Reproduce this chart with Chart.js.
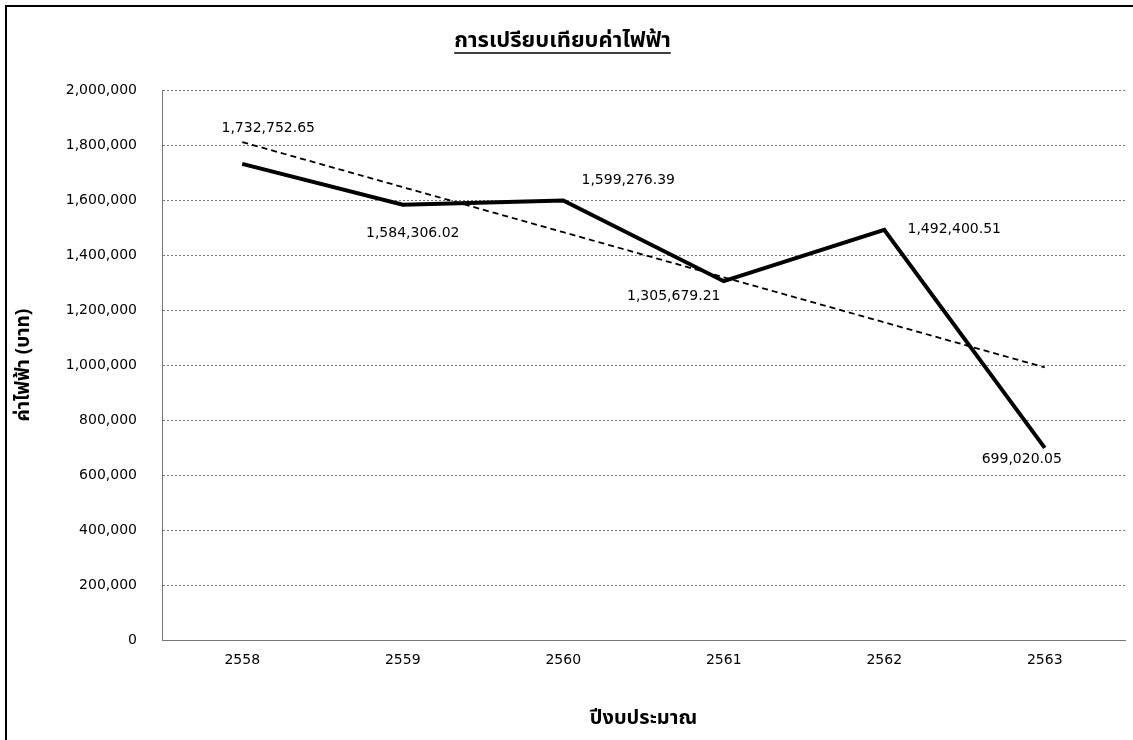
<!DOCTYPE html>
<html>
<head>
<meta charset="utf-8">
<script src="https://cdn.jsdelivr.net/npm/chart.js@4.4.1/dist/chart.umd.min.js"></script>
<style>
  html, body { margin: 0; padding: 0; background: #fff; overflow: hidden; }
  #wrap { width: 1133px; height: 740px; position: relative; }
</style>
</head>
<body>
<div id="wrap"><canvas id="myChart"></canvas></div>
<script>
const years = ['2558', '2559', '2560', '2561', '2562', '2563'];
const costs = [1732752.65, 1584306.02, 1599276.39, 1305679.21, 1492400.51, 699020.05];
// dashed trend line
const trend = [1812000, 1648000, 1484000, 1320000, 1156000, 992000];

const FONT = "'DejaVu Sans', 'Noto Sans', sans-serif";
const THAI = "'Noto Sans Thai', 'Noto Sans', 'DejaVu Sans', sans-serif";

// where each value label sits relative to its point
const labelOffsets = [[26, -35], [10, 29], [65, -20], [-50, 15], [70, -1], [-23, 11]];

const fmt = (v) => v.toLocaleString('en-US', { minimumFractionDigits: 2, maximumFractionDigits: 2 });

const extras = {
    id: 'extras',
    beforeDraw(chart) {
        const ctx = chart.ctx;
        ctx.save();
        ctx.fillStyle = '#fff';
        ctx.fillRect(0, 0, chart.width, chart.height);
        ctx.strokeStyle = '#000';
        ctx.lineWidth = 2;
        ctx.beginPath();
        ctx.moveTo(6, chart.height);
        ctx.lineTo(6, 6);
        ctx.lineTo(chart.width, 6);
        ctx.stroke();
        ctx.restore();
    },
    afterDraw(chart) {
        const ctx = chart.ctx;
        ctx.save();
        // underline the title
        const tb = chart.titleBlock;
        ctx.font = 'bold 22px ' + THAI;
        const w = ctx.measureText(chart.options.plugins.title.text).width;
        const cx = (tb.left + tb.right) / 2;
        ctx.strokeStyle = '#000';
        ctx.lineWidth = 1.5;
        ctx.beginPath();
        ctx.moveTo(cx - w / 2, 53);
        ctx.lineTo(cx + w / 2, 53);
        ctx.stroke();

        // value labels
        const meta = chart.getDatasetMeta(0);
        ctx.font = '14px ' + FONT;
        ctx.fillStyle = '#000';
        ctx.textAlign = 'center';
        ctx.textBaseline = 'middle';
        meta.data.forEach((pt, i) => {
            const [dx, dy] = labelOffsets[i];
            ctx.fillText(fmt(costs[i]), pt.x + dx, pt.y + dy);
        });
        ctx.restore();
    }
};

const data = {
    labels: years,
    datasets: [{
        label: 'ค่าไฟฟ้า',
        data: costs,
        borderColor: '#000',
        borderWidth: 4,
        pointRadius: 0,
        tension: 0,
        order: 1
    }, {
        label: 'แนวโน้ม',
        data: trend,
        borderColor: '#000',
        borderWidth: 1.8,
        borderDash: [6, 4],
        pointRadius: 0,
        order: 2
    }]
};

const config = {
    type: 'line',
    data: data,
    options: {
        responsive: true,
        maintainAspectRatio: false,
        animation: false,
        layout: { padding: { left: 0, right: 8, top: 0, bottom: 0 } },
        plugins: {
            legend: { display: false },
            tooltip: { enabled: false },
            title: {
                display: true,
                text: 'การเปรียบเทียบค่าไฟฟ้า',
                color: '#000',
                font: { family: THAI, size: 22, weight: 'bold', lineHeight: 1.2 },
                padding: { top: 29, bottom: 35 }
            }
        },
        scales: {
            x: {
                offset: true,
                grid: { display: false, drawTicks: false },
                border: { display: true, color: '#777', dash: [2, 2], width: 1 },
                ticks: { color: '#000', font: { family: FONT, size: 14 }, padding: 12 },
                title: {
                    display: true,
                    text: 'ปีงบประมาณ',
                    color: '#000',
                    font: { family: THAI, size: 20, weight: 'bold', lineHeight: 1.2 },
                    padding: { bottom: 8 }
                },
                afterFit(scale) { scale.height = 100; }
            },
            y: {
                min: 0,
                max: 2000000,
                grid: { color: '#777', drawTicks: false },
                border: { display: true, color: '#777', dash: [2, 2], width: 1 },
                ticks: {
                    stepSize: 200000,
                    color: '#000',
                    font: { family: FONT, size: 14 },
                    padding: 25,
                    callback: (v) => v.toLocaleString('en-US')
                },
                title: {
                    display: true,
                    text: 'ค่าไฟฟ้า (บาท)',
                    color: '#000',
                    font: { family: THAI, size: 19, weight: 'bold', lineHeight: 1.2 },
                    padding: { top: 14 }
                },
                afterFit(scale) { scale.width = 162; }
            }
        }
    },
    plugins: [extras]
};

const myChart = new Chart(document.getElementById('myChart'), config);
</script>
</body>
</html>
